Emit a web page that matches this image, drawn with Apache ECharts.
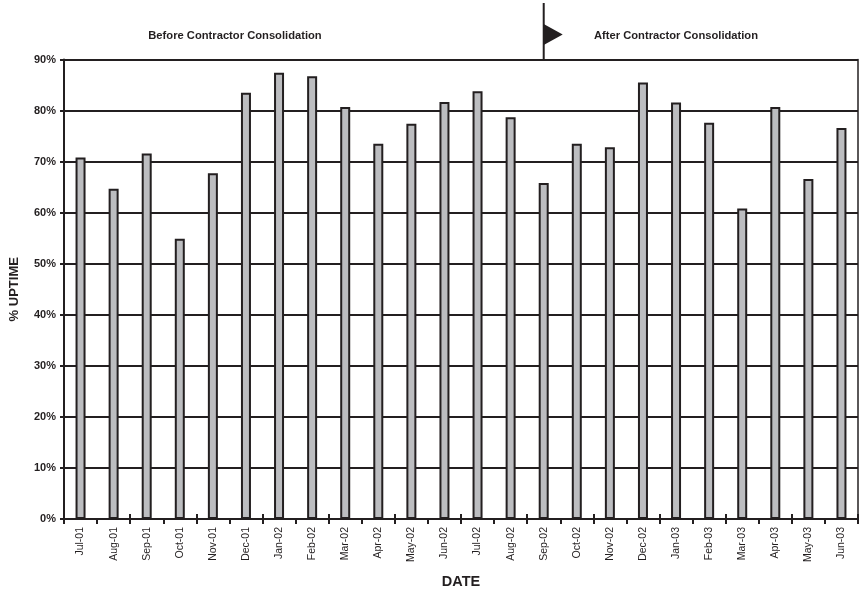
<!DOCTYPE html>
<html>
<head>
<meta charset="utf-8">
<script src="https://cdn.jsdelivr.net/npm/echarts@6/dist/echarts.min.js"></script>
<style>
  html, body { margin: 0; padding: 0; background: #fff; }
  #chart { width: 859px; height: 594px; }
</style>
</head>
<body>
<div id="chart"></div>
<script>
// Monthly uptime, July 2001 through June 2003
const months = ['Jul-01','Aug-01','Sep-01','Oct-01','Nov-01','Dec-01','Jan-02','Feb-02','Mar-02','Apr-02','May-02','Jun-02',
                'Jul-02','Aug-02','Sep-02','Oct-02','Nov-02','Dec-02','Jan-03','Feb-03','Mar-03','Apr-03','May-03','Jun-03'];
const uptime = [70.8, 64.7, 71.6, 54.9, 67.7, 83.5, 87.4, 86.7, 80.7, 73.5, 77.4, 81.7,
                83.8, 78.7, 65.8, 73.5, 72.8, 85.5, 81.6, 77.6, 60.8, 80.7, 66.6, 76.6];
const yTicks = [0, 10, 20, 30, 40, 50, 60, 70, 80, 90];
const phaseLabels = ['Before Contractor Consolidation', 'After Contractor Consolidation'];
const changeMonth = 'Sep-02';

const ink = '#231f20';
const font = 'Liberation Sans, Arial, Helvetica, sans-serif';

const chart = echarts.init(document.getElementById('chart'), null, { renderer: 'canvas' });

const option = {
  backgroundColor: '#ffffff',
  animation: false,
  textStyle: { fontFamily: font, color: ink },
  grid: { left: 62, right: 1, top: 59.5, bottom: 74, show: false },
  xAxis: [
    {
      type: 'category',
      data: months,
      boundaryGap: true,
      name: 'DATE',
      nameLocation: 'middle',
      nameGap: 55,
      nameTextStyle: { fontSize: 14.5, fontWeight: 'bold', color: ink, fontFamily: font },
      axisLine: { lineStyle: { color: ink, width: 2 } },
      axisTick: { show: true, length: 5, lineStyle: { color: ink, width: 2 } },
      axisLabel: { rotate: 90, fontSize: 10.5, color: ink, margin: 8, fontFamily: font, interval: 0 },
      splitLine: { show: false }
    },
    {
      // inner half of the tick marks that cross the category axis
      type: 'category',
      data: months,
      position: 'bottom',
      boundaryGap: true,
      axisLine: { show: false },
      axisTick: { show: true, inside: true, length: 5, lineStyle: { color: ink, width: 2 } },
      axisLabel: { show: false },
      splitLine: { show: false }
    }
  ],
  yAxis: [
    {
      type: 'value',
      min: yTicks[0],
      max: yTicks[yTicks.length - 1],
      interval: 10,
      name: '% UPTIME',
      nameLocation: 'middle',
      nameGap: 43,
      nameTextStyle: { fontSize: 13, fontWeight: 'bold', color: ink, fontFamily: font },
      axisLine: { show: true, lineStyle: { color: ink, width: 2 } },
      axisTick: { show: true, length: 4, lineStyle: { color: ink, width: 2 } },
      axisLabel: { formatter: v => v + '%', fontSize: 11, fontWeight: 'bold', color: ink, margin: 8, fontFamily: font },
      splitLine: { show: true, lineStyle: { color: ink, width: 2 } }
    },
    {
      // right-hand frame of the plot area
      type: 'value',
      position: 'right',
      min: yTicks[0],
      max: yTicks[yTicks.length - 1],
      interval: 10,
      axisLine: { show: true, lineStyle: { color: ink, width: 1.5 } },
      axisTick: { show: false },
      axisLabel: { show: false },
      splitLine: { show: false }
    }
  ],
  series: [
    {
      type: 'bar',
      data: uptime,
      barWidth: 10,
      itemStyle: { color: '#bcbdc0', borderColor: ink, borderWidth: 2 },
      z: 3
    }
  ]
};

chart.setOption(option);

// Phase labels and the flag marking the consolidation month
const flagX = chart.convertToPixel({ xAxisIndex: 0 }, changeMonth);
const plotTop = chart.convertToPixel({ yAxisIndex: 0 }, yTicks[yTicks.length - 1]);

chart.setOption({
  graphic: [
    {
      type: 'text',
      x: 235, y: 35.5,
      style: { text: phaseLabels[0], fill: ink, font: 'bold 11.2px ' + font, align: 'center', verticalAlign: 'middle' }
    },
    {
      type: 'text',
      x: 676, y: 35.5,
      style: { text: phaseLabels[1], fill: ink, font: 'bold 11.2px ' + font, align: 'center', verticalAlign: 'middle' }
    },
    {
      type: 'line',
      shape: { x1: flagX, y1: 3, x2: flagX, y2: plotTop },
      style: { stroke: ink, lineWidth: 2 },
      z: 10
    },
    {
      type: 'polygon',
      shape: { points: [[flagX, 24], [flagX + 19, 34.5], [flagX, 45]] },
      style: { fill: ink },
      z: 10
    }
  ]
});
</script>
</body>
</html>
